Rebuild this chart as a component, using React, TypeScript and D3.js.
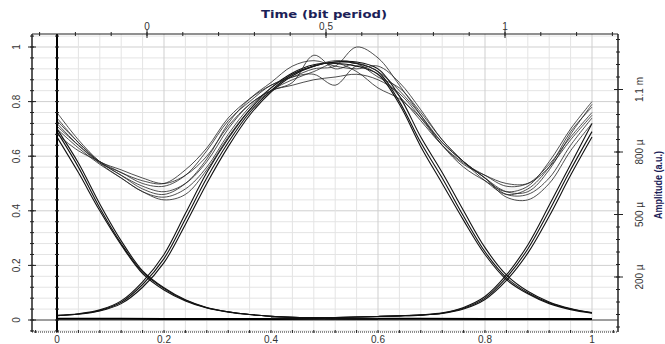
import * as d3 from "d3";

// sample positions on the bottom axis (fraction of the window)
const sampleX = [0, 0.04, 0.08, 0.12, 0.16, 0.2, 0.24, 0.28, 0.32, 0.36, 0.4, 0.44, 0.48,
  0.52, 0.56, 0.6, 0.64, 0.68, 0.72, 0.76, 0.8, 0.84, 0.88, 0.92, 0.96, 1.0];
const leftHalfX = sampleX.slice(0, 16);   // 0 .. 0.6
const rightHalfX = sampleX.slice(10);     // 0.4 .. 1

// noisy summed traces
const traces = [
  [0.76, 0.66, 0.58, 0.53, 0.49, 0.47, 0.50, 0.58, 0.70, 0.79, 0.84, 0.87, 0.97, 0.92, 0.94, 0.91, 0.84, 0.75, 0.65, 0.58, 0.52, 0.47, 0.47, 0.55, 0.68, 0.79],
  [0.72, 0.64, 0.575, 0.54, 0.50, 0.49, 0.53, 0.62, 0.73, 0.80, 0.86, 0.89, 0.90, 0.86, 0.93, 0.90, 0.82, 0.73, 0.64, 0.575, 0.53, 0.49, 0.50, 0.57, 0.67, 0.76],
  [0.70, 0.63, 0.57, 0.52, 0.47, 0.45, 0.48, 0.56, 0.68, 0.78, 0.85, 0.90, 0.93, 0.95, 0.94, 0.89, 0.85, 0.76, 0.66, 0.58, 0.52, 0.46, 0.46, 0.52, 0.64, 0.74],
  [0.68, 0.62, 0.58, 0.54, 0.51, 0.50, 0.55, 0.63, 0.74, 0.81, 0.86, 0.89, 0.92, 0.93, 1.00, 0.96, 0.86, 0.75, 0.64, 0.56, 0.51, 0.47, 0.49, 0.58, 0.70, 0.80],
  [0.74, 0.65, 0.575, 0.52, 0.47, 0.44, 0.46, 0.55, 0.67, 0.77, 0.84, 0.88, 0.91, 0.94, 0.91, 0.85, 0.81, 0.74, 0.65, 0.58, 0.52, 0.45, 0.44, 0.50, 0.62, 0.72],
  [0.71, 0.64, 0.58, 0.55, 0.52, 0.50, 0.53, 0.60, 0.71, 0.79, 0.84, 0.86, 0.88, 0.89, 0.90, 0.88, 0.83, 0.74, 0.64, 0.57, 0.53, 0.50, 0.50, 0.56, 0.66, 0.75],
  [0.73, 0.65, 0.58, 0.53, 0.48, 0.46, 0.50, 0.59, 0.72, 0.81, 0.87, 0.93, 0.95, 0.93, 0.92, 0.93, 0.87, 0.77, 0.66, 0.58, 0.51, 0.46, 0.48, 0.56, 0.69, 0.78],
];

// single pulses: falling tail of the previous bit (0..0.6)
const fallPulses = [
  [0.69, 0.56, 0.41, 0.28, 0.175, 0.115, 0.072, 0.045, 0.03, 0.02, 0.014, 0.01, 0.007, 0.005, 0.004, 0.004],
  [0.67, 0.54, 0.40, 0.275, 0.17, 0.11, 0.07, 0.044, 0.029, 0.02, 0.014, 0.01, 0.007, 0.005, 0.004, 0.004],
  [0.70, 0.575, 0.425, 0.29, 0.18, 0.118, 0.074, 0.046, 0.03, 0.02, 0.014, 0.01, 0.007, 0.005, 0.004, 0.004],
];
// current bit pulse (0..1)
const midPulses = [
  [0.016, 0.022, 0.035, 0.065, 0.13, 0.225, 0.37, 0.52, 0.65, 0.76, 0.84, 0.90, 0.93, 0.945, 0.94, 0.91, 0.80, 0.65, 0.52, 0.38, 0.25, 0.155, 0.10, 0.063, 0.04, 0.026],
  [0.016, 0.021, 0.033, 0.06, 0.12, 0.21, 0.35, 0.50, 0.635, 0.75, 0.835, 0.895, 0.93, 0.945, 0.945, 0.92, 0.82, 0.67, 0.54, 0.40, 0.265, 0.165, 0.105, 0.066, 0.042, 0.027],
  [0.017, 0.023, 0.037, 0.07, 0.14, 0.24, 0.39, 0.54, 0.665, 0.77, 0.85, 0.905, 0.935, 0.94, 0.93, 0.90, 0.79, 0.635, 0.50, 0.365, 0.24, 0.148, 0.096, 0.06, 0.038, 0.025],
];
// rising edge of the next bit (0.4..1)
const risePulses = [
  [0.006, 0.007, 0.008, 0.009, 0.011, 0.013, 0.015, 0.018, 0.025, 0.043, 0.08, 0.155, 0.26, 0.40, 0.55, 0.69],
  [0.006, 0.007, 0.008, 0.009, 0.011, 0.013, 0.015, 0.018, 0.024, 0.04, 0.075, 0.145, 0.245, 0.38, 0.53, 0.67],
  [0.006, 0.007, 0.008, 0.009, 0.011, 0.013, 0.015, 0.019, 0.026, 0.046, 0.086, 0.165, 0.275, 0.42, 0.57, 0.72],
];
// "zero" level trace
const zeroX = [0, 0.2, 0.4, 0.6, 0.8, 1];
const zeroTrace = [0.005, 0.004, 0.004, 0.005, 0.004, 0.004];

const leftTicks = [0, 0.2, 0.4, 0.6, 0.8, 1];
const leftLabels = ["0", "0.2", "0.4", "0.6", "0.8", "1"];
const bottomTicks = [0, 0.2, 0.4, 0.6, 0.8, 1];
const bottomLabels = ["0", "0.2", "0.4", "0.6", "0.8", "1"];
const topTicks = [0, 0.5, 1];
const topLabels = ["0", "0.5", "1"];
const rightTicks = [200e-6, 500e-6, 800e-6, 1100e-6];
const rightLabels = ["200 µ", "500 µ", "800 µ", "1.1 m"];

const L = 32, R = 618, T = 34, B = 332;
const font = "'Liberation Sans', Arial, sans-serif";

export default function App() {
  const x = d3.scaleLinear().domain([0, 1]).range([57, 592]);
  const xTop = d3.scaleLinear().domain([0, 1]).range([147, 505]);
  const y = d3.scaleLinear().domain([0, 1]).range([320, 47]);
  const yR = d3.scaleLinear().domain([200e-6, 1100e-6]).range([277, 89.5]);

  const mk = (xsArr: number[]) =>
    d3.line<number>().x((_, i) => x(xsArr[i])).y((d) => y(d)).curve(d3.curveCatmullRom);

  const vGrid = d3.range(1, 26).map((k) => ({ px: x(k * 0.04), major: k % 5 === 0 }));
  const hGrid = d3.range(-1, 27).map((k) => ({ py: y(k * 0.04), major: k % 5 === 0 }));
  const leftMinor = d3.range(-1, 27).map((k) => y(k * 0.04));
  const topMinor = d3.range(-3, 14).map((k) => xTop(k / 10));
  const bottomMinor = d3.range(-1, 27).map((k) => x(k * 0.04)).filter((p) => p > L && p < R);
  const rightMinor = d3.range(-1, 24).map((k) => yR((200 - 60 * 4 + 60 * k) * 1e-6)).filter((p) => p > T && p < B);

  return (
    <svg width={665} height={344} style={{ position: "absolute", left: 0, top: 0, background: "#fff" }}>
      {/* grid */}
      {hGrid.map((g, i) => (
        <line key={"h" + i} x1={L} x2={R} y1={g.py} y2={g.py} stroke={g.major ? "#cfcfcf" : "#e4e4e4"} strokeWidth={1} />
      ))}
      {vGrid.map((g, i) => (
        <line key={"v" + i} x1={g.px} x2={g.px} y1={T} y2={B} stroke={g.major ? "#cfcfcf" : "#e4e4e4"} strokeWidth={1} />
      ))}
      <line x1={L} x2={R} y1={y(0)} y2={y(0)} stroke="#555" strokeWidth={1} />

      {/* traces */}
      <path d={mk(zeroX)(zeroTrace) || ""} fill="none" stroke="#000" strokeWidth={2} />
      {fallPulses.map((p, i) => (
        <path key={"f" + i} d={mk(leftHalfX)(p) || ""} fill="none" stroke="#111" strokeWidth={1.1} />
      ))}
      {midPulses.map((p, i) => (
        <path key={"m" + i} d={mk(sampleX)(p) || ""} fill="none" stroke="#111" strokeWidth={1.1} />
      ))}
      {risePulses.map((p, i) => (
        <path key={"r" + i} d={mk(rightHalfX)(p) || ""} fill="none" stroke="#111" strokeWidth={1.1} />
      ))}
      {traces.map((p, i) => (
        <path key={"t" + i} d={mk(sampleX)(p) || ""} fill="none" stroke="#222" strokeWidth={0.8} />
      ))}

      {/* left axis */}
      <line x1={L} x2={L} y1={T} y2={B} stroke="#222" strokeWidth={1.5} />
      {leftMinor.map((py, i) => (
        <line key={"lm" + i} x1={L - 2} x2={L + 2} y1={py} y2={py} stroke="#222" />
      ))}
      {leftTicks.map((v, i) => (
        <g key={"lt" + i}>
          <line x1={L - 4} x2={L + 4} y1={y(v)} y2={y(v)} stroke="#222" />
          <text transform={`translate(20,${y(v)}) rotate(-90)`} textAnchor="middle" fontFamily={font} fontSize={10} fill="#333">
            {leftLabels[i]}
          </text>
        </g>
      ))}

      {/* second axis at data start */}
      <line x1={x(0)} x2={x(0)} y1={T} y2={B} stroke="#000" strokeWidth={2} />
      {leftMinor.map((py, i) => (
        <line key={"sm" + i} x1={x(0) - 2} x2={x(0) + 2} y1={py} y2={py} stroke="#222" />
      ))}

      {/* top axis */}
      <line x1={L} x2={R} y1={T} y2={T} stroke="#222" strokeWidth={1.2} />
      {topMinor.map((px, i) => (
        <line key={"tm" + i} x1={px} x2={px} y1={T - 2} y2={T + 2} stroke="#222" />
      ))}
      {topTicks.map((v, i) => (
        <g key={"tt" + i}>
          <line x1={xTop(v)} x2={xTop(v)} y1={T - 4} y2={T + 4} stroke="#222" />
          <text x={xTop(v)} y={30} textAnchor="middle" fontFamily={font} fontSize={10} fill="#333">
            {topLabels[i]}
          </text>
        </g>
      ))}
      <text x={324} y={18} textAnchor="middle" fontFamily="'DejaVu Sans', Verdana, sans-serif" fontWeight="bold" fontSize={11}
        fill="#1b2157" textLength={126} lengthAdjust="spacingAndGlyphs">
        Time (bit period)
      </text>

      {/* bottom axis */}
      <line x1={L} x2={R} y1={B} y2={B} stroke="#222" strokeWidth={1} strokeDasharray="1,1" />
      {bottomMinor.map((px, i) => (
        <line key={"bm" + i} x1={px} x2={px} y1={B - 2} y2={B + 1} stroke="#222" />
      ))}
      {bottomTicks.map((v, i) => (
        <text key={"bt" + i} x={x(v)} y={343} textAnchor="middle" fontFamily={font} fontSize={10} fill="#333">
          {bottomLabels[i]}
        </text>
      ))}

      {/* right axis */}
      <line x1={R} x2={R} y1={T} y2={B} stroke="#222" strokeWidth={1.5} />
      {rightMinor.map((py, i) => (
        <line key={"rm" + i} x1={R - 2} x2={R + 2} y1={py} y2={py} stroke="#222" />
      ))}
      {rightTicks.map((v, i) => (
        <g key={"rt" + i}>
          <line x1={R - 4} x2={R + 5} y1={yR(v)} y2={yR(v)} stroke="#222" />
          <text transform={`translate(643,${yR(v)}) rotate(-90)`} textAnchor="middle" fontFamily={font} fontSize={10} fill="#333">
            {rightLabels[i]}
          </text>
        </g>
      ))}
      <text transform="translate(662,185) rotate(-90)" textAnchor="middle" fontFamily={font} fontWeight="bold" fontSize={11}
        fill="#1b2157" textLength={68} lengthAdjust="spacingAndGlyphs">
        Amplitude (a.u.)
      </text>
    </svg>
  );
}
